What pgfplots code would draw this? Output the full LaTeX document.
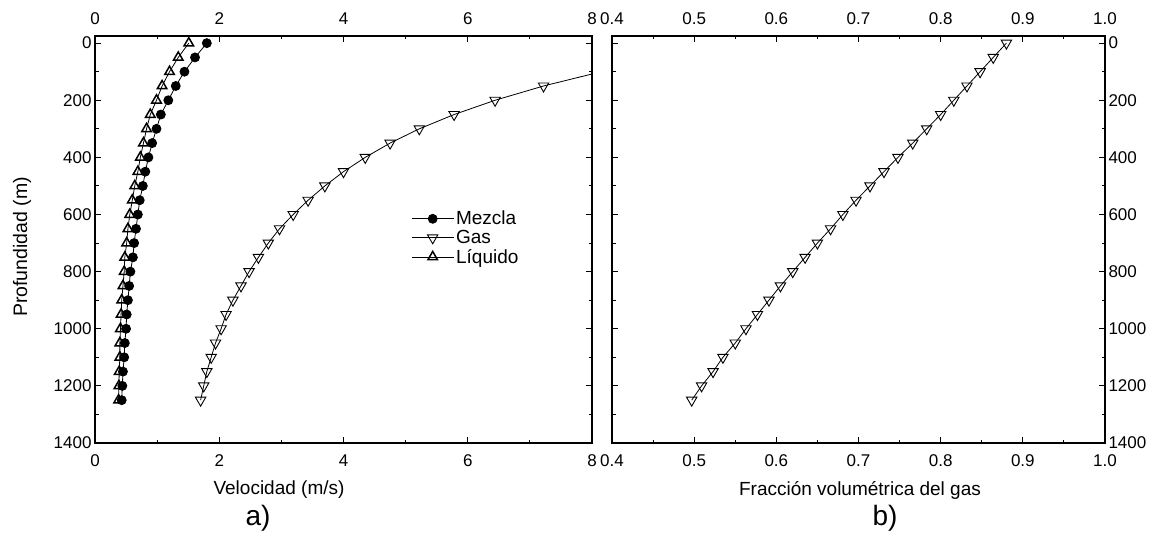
\documentclass[border=0pt]{standalone}
\usepackage{pgfplots}
\pgfplotsset{compat=1.18}
\usepackage{fontspec}
\setmainfont{Liberation Sans}
\pgfplotstableread{
d m g l f
0    1.80 nan  1.51 0.880
50   1.61 nan  1.34 0.864
100  1.44 8.15 1.20 0.848
150  1.30 7.22 1.08 0.832
200  1.18 6.44 0.99 0.816
250  1.06 5.78 0.89 0.800
300  0.99 5.22 0.83 0.783
350  0.92 4.75 0.78 0.766
400  0.86 4.35 0.73 0.748
450  0.81 4.00 0.69 0.731
500  0.77 3.70 0.64 0.714
550  0.72 3.43 0.60 0.697
600  0.69 3.19 0.56 0.681
650  0.66 2.97 0.53 0.666
700  0.63 2.79 0.51 0.650
750  0.61 2.63 0.48 0.635
800  0.57 2.48 0.47 0.620
850  0.55 2.35 0.45 0.605
900  0.53 2.22 0.43 0.591
950  0.51 2.11 0.42 0.577
1000 0.50 2.03 0.41 0.563
1050 0.48 1.94 0.40 0.550
1100 0.47 1.87 0.40 0.535
1150 0.45 1.80 0.39 0.523
1200 0.44 1.75 0.385 0.509
1250 0.43 1.70 0.38 0.497
}\datatable
\begin{document}
\begin{tikzpicture}
\path[use as bounding box] (0pt,0pt) rectangle (1161pt,537pt);
\pgfplotsset{
 common/.style={scale only axis, height=407pt, anchor=south west,
  y dir=reverse, ymin=-25, ymax=1400, ytick={0,200,...,1400}, minor y tick num=1,
  axis line style={line width=1.1pt}, tick style={line width=1pt, black},
  major tick length=6pt, minor tick length=3.5pt, tick align=inside,
  ticklabel style={font=\fontsize{17}{20}\selectfont},
  /pgf/number format/assume math mode=true, /pgf/number format/1000 sep={},
  xtick pos=both, ytick pos=both, clip marker paths=true},
 leftax/.style={common, width=497pt, at={(95pt,94pt)}, xmin=0, xmax=8, xtick={0,2,4,6,8}, minor x tick num=1},
 rightax/.style={common, width=493pt, at={(612pt,94pt)}, xmin=0.4, xmax=1.0,
  xtick={0.4,0.5,0.6,0.7,0.8,0.9,1.0}, minor x tick num=1,
  xticklabel style={/pgf/number format/fixed, /pgf/number format/fixed zerofill, /pgf/number format/precision=1}},
 lowlab/.style={xticklabel pos=lower, xticklabel style={yshift=-8pt}},
 uplab/.style={xticklabel pos=upper, yticklabels={}, xticklabel style={yshift=8pt}},
}
\begin{axis}[leftax, lowlab, yticklabel pos=left,
  legend style={draw=none, fill=none, at={(0.636,0.575)}, anchor=north west,
   font=\fontsize{19}{22}\selectfont, row sep=0pt, inner sep=0pt},
  legend cell align=left,
  legend image code/.code={\draw[mark repeat=2,mark phase=2] plot coordinates {(0pt,0pt) (21pt,0pt) (42pt,0pt)};}]
\addplot[black, line width=0.8pt, mark=*, mark size=4.5pt] table[x=m, y=d] {\datatable};
\addlegendentry{Mezcla}
\addplot[black, line width=0.8pt, mark=triangle, mark size=6pt, mark options={rotate=180, fill=white, line width=0.9pt}, unbounded coords=discard] table[x=g, y=d] {\datatable};
\addlegendentry{Gas}
\addplot[black, line width=0.8pt, mark=triangle, mark size=5.5pt, mark options={fill=white, line width=1.5pt}] table[x=l, y=d] {\datatable};
\addlegendentry{Líquido}
\end{axis}
\begin{axis}[leftax, uplab]
\end{axis}
\begin{axis}[rightax, lowlab, yticklabel pos=right]
\addplot[black, line width=0.8pt, mark=triangle, mark size=6pt, mark options={rotate=180, fill=white, line width=0.9pt}] table[x=f, y=d] {\datatable};
\end{axis}
\begin{axis}[rightax, uplab]
\end{axis}
\node[rotate=90, font=\fontsize{19.5}{22}\selectfont] at (22pt,290pt) {Profundidad (m)};
\node[font=\fontsize{19}{22}\selectfont] at (279pt,47pt) {Velocidad (m/s)};
\node[font=\fontsize{28}{30}\selectfont] at (258pt,19pt) {a)};
\node[font=\fontsize{19}{22}\selectfont] at (860pt,47pt) {Fracción volumétrica del gas};
\node[font=\fontsize{28}{30}\selectfont] at (885pt,19pt) {b)};
\end{tikzpicture}
\end{document}
